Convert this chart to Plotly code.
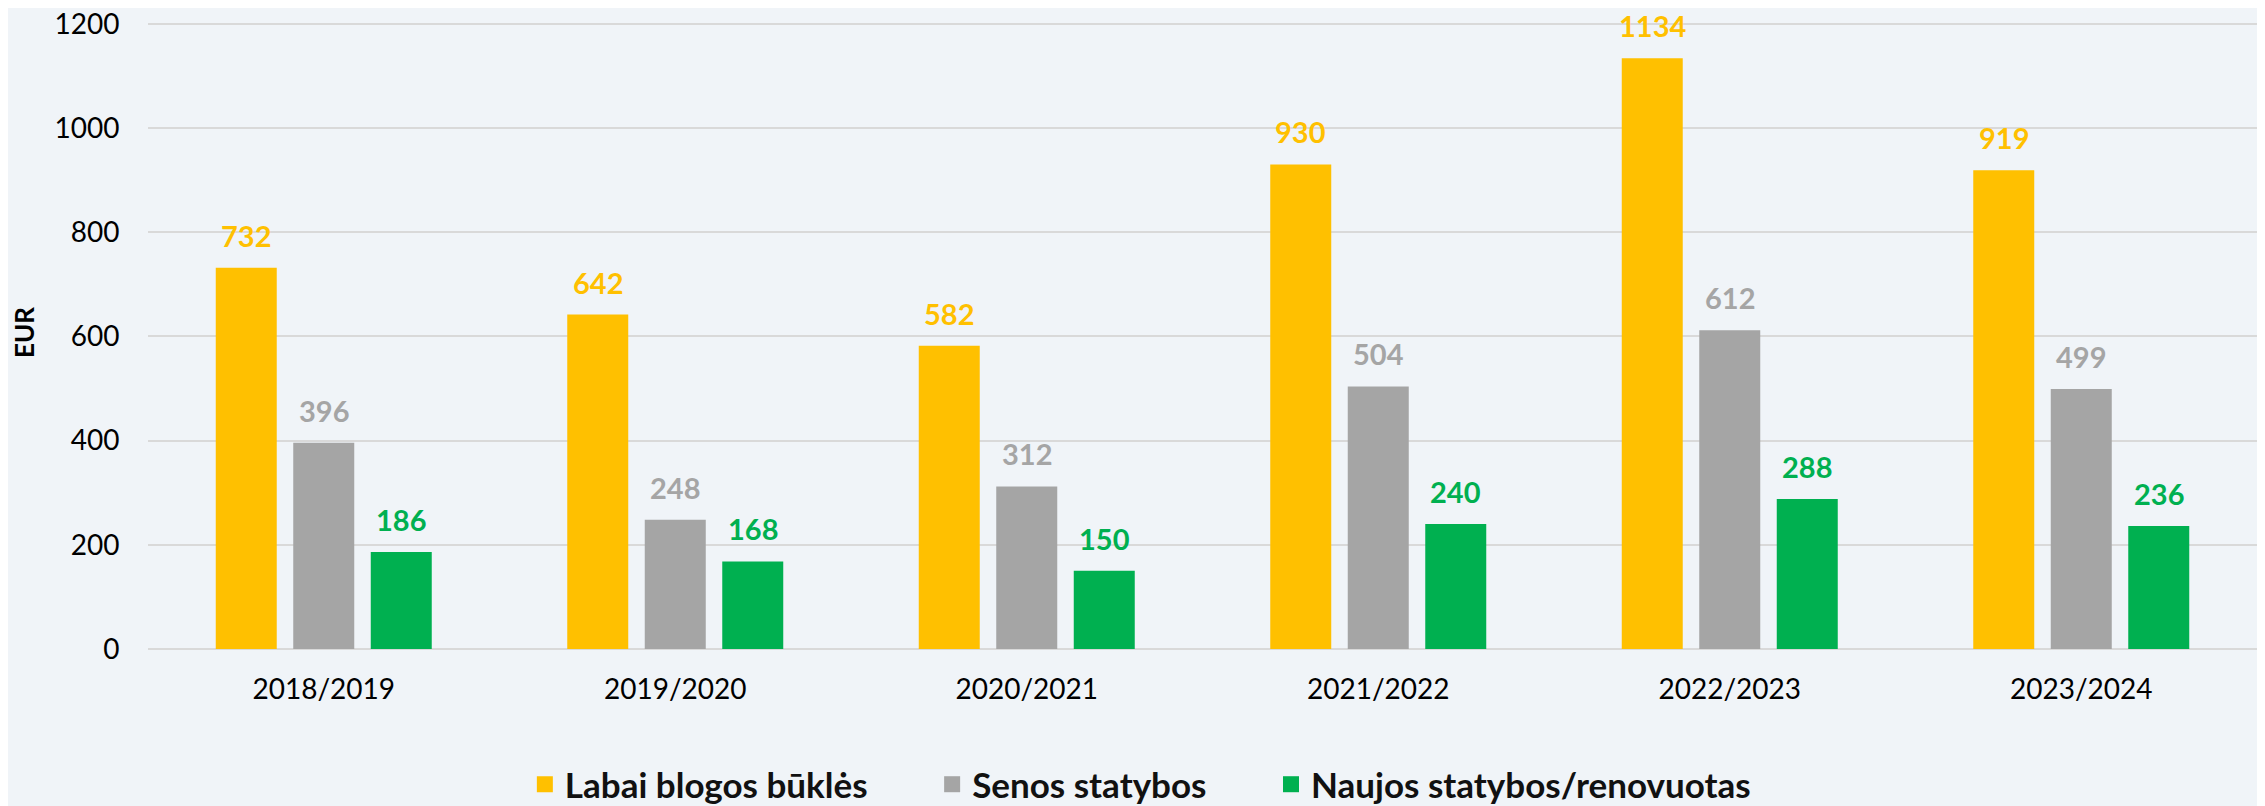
import plotly.graph_objects as go

categories = ["2018/2019", "2019/2020", "2020/2021", "2021/2022", "2022/2023", "2023/2024"]
labai_blogos = [732, 642, 582, 930, 1134, 919]
senos = [396, 248, 312, 504, 612, 499]
naujos = [186, 168, 150, 240, 288, 236]

series_names = ["Labai blogos būklės", "Senos statybos", "Naujos statybos/renovuotas"]
series_values = [labai_blogos, senos, naujos]
colors = ["#FFC000", "#A5A5A5", "#00B050"]

y_ticks = [0, 200, 400, 600, 800, 1000, 1200]

BG = "#F0F4F8"
FONT = "Lato, Carlito, Calibri, sans-serif"

W, H = 2257, 798
ML, MR, MT, MB = 140, 8, 8, 157
BARGAP, GROUPGAP = 0.3385, 0.213

fig = go.Figure()
for name, vals, col in zip(series_names, series_values, colors):
    fig.add_trace(go.Bar(
        x=categories, y=vals, name=name,
        marker=dict(color=col, line=dict(width=0)),
        showlegend=False, legendgroup=name,
    ))
for name, col in zip(series_names, colors):
    fig.add_trace(go.Scatter(
        x=[None], y=[None], mode="markers",
        name=name + "\u00a0" * 7, legendgroup=name,
        marker=dict(symbol="square", size=16, color=col),
    ))

# value labels above each bar (offset by the group slot width)
cat_px = (W - ML - MR) / len(categories)
slot_px = cat_px * (1 - BARGAP) / len(series_names)
for k, (vals, col) in enumerate(zip(series_values, colors)):
    for cat, v in zip(categories, vals):
        fig.add_annotation(
            x=cat, y=v, xref="x", yref="y", text=f"<b>{v}</b>", showarrow=False,
            xanchor="center", yanchor="bottom",
            xshift=(k - 1) * slot_px, yshift=13,
            font=dict(family=FONT, size=29, color=col),
        )

fig.update_layout(
    width=W, height=H,
    paper_bgcolor=BG, plot_bgcolor=BG,
    margin=dict(l=ML, r=MR, t=MT, b=MB, autoexpand=False),
    barmode="group", bargap=BARGAP, bargroupgap=GROUPGAP,
    font=dict(family=FONT, size=28, color="#000000"),
    showlegend=True,
    legend=dict(
        orientation="h", xref="container", x=0.515, xanchor="center",
        yref="paper", y=-0.214, yanchor="middle",
        font=dict(family=FONT, size=35, color="#111111", weight="bold"),
        itemsizing="trace", tracegroupgap=0, bgcolor="rgba(0,0,0,0)",
    ),
    xaxis=dict(
        showgrid=False, showline=False, zeroline=False, automargin=False,
        ticks="outside", ticklen=15, tickcolor="rgba(0,0,0,0)",
        tickfont=dict(family=FONT, size=28, color="#000000"),
        ticklabeloverflow="allow",
    ),
    yaxis=dict(
        range=[0, 1215], tickvals=y_ticks, automargin=False,
        showgrid=True, gridcolor="#D9D9D9", gridwidth=2,
        zeroline=True, zerolinecolor="#D9D9D9", zerolinewidth=2,
        ticks="outside", ticklen=22, tickcolor="rgba(0,0,0,0)",
        tickfont=dict(family=FONT, size=28, color="#000000"),
        ticklabeloverflow="allow",
        title=dict(text="<b>EUR</b>", font=dict(family=FONT, size=26, color="#000000"), standoff=25),
    ),
)

fig.write_html("out.html")
